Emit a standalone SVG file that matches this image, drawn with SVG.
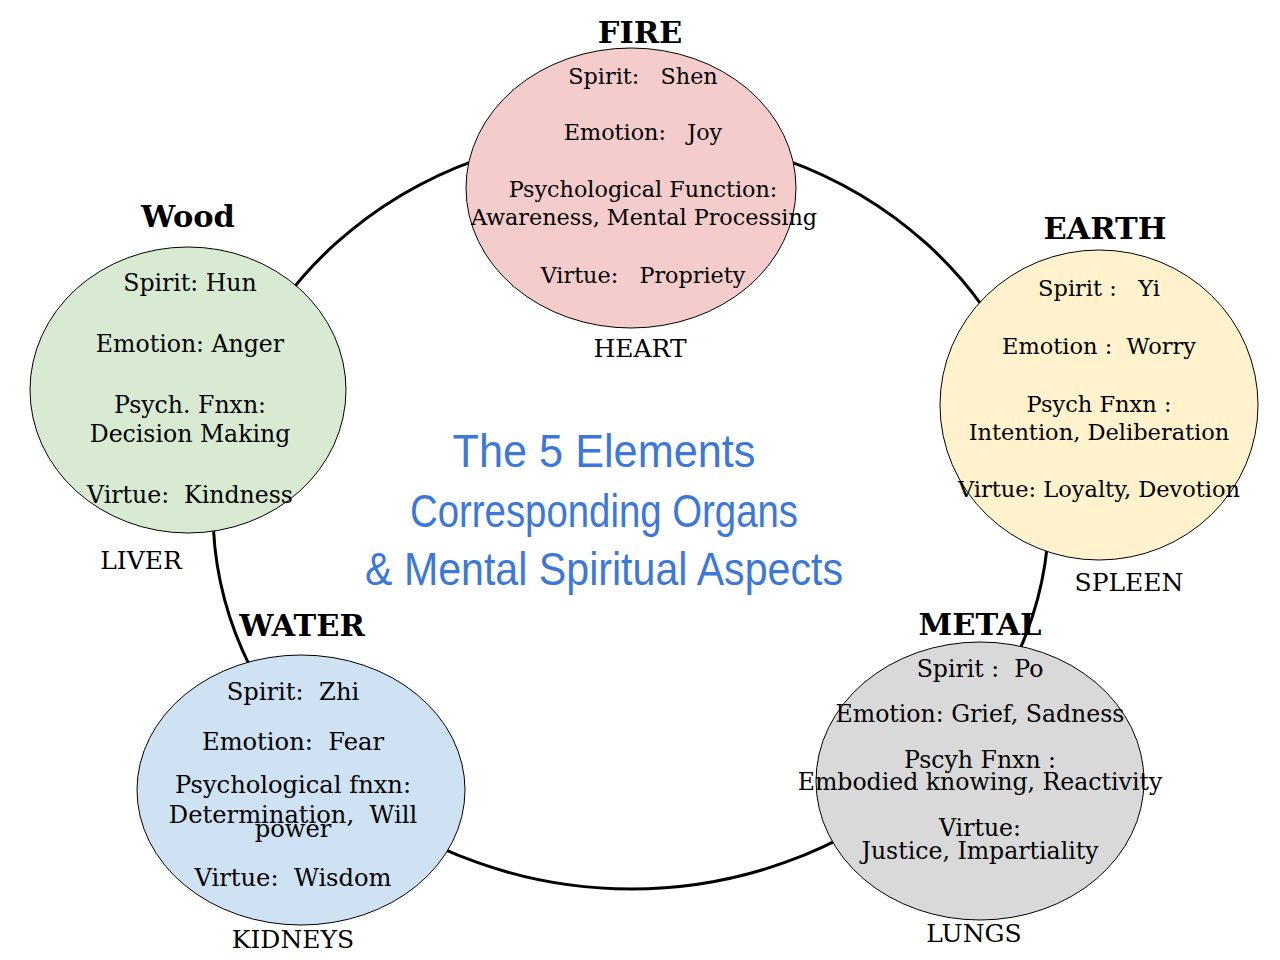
<svg xmlns="http://www.w3.org/2000/svg" width="1280" height="960" viewBox="0 0 1280 960">
<style>
.node{stroke:#000;stroke-width:1}
.t{font-family:"DejaVu Serif","Liberation Serif",serif;font-size:22px;fill:#000;text-anchor:middle;white-space:pre}
#fire .t{font-size:22.3px}
#wood .t{font-size:23.6px}
#earth .t{font-size:22.5px}
#water .t{font-size:24.2px}
#metal .t{font-size:23.6px}
.h{font-family:"DejaVu Serif","Liberation Serif",serif;font-size:30.5px;font-weight:bold;fill:#000;text-anchor:middle}
.o{font-family:"DejaVu Serif","Liberation Serif",serif;font-size:25px;fill:#000;text-anchor:middle}
.title{font-family:"Liberation Sans",sans-serif;font-size:46px;fill:#3c78d8;text-anchor:middle}
</style>
<rect width="1280" height="960" fill="#fff"/>
<g id="connectors">
<ellipse cx="631" cy="511" rx="418" ry="378" fill="none" stroke="#000" stroke-width="3"/>
</g>
<g id="fire">
<ellipse class="node" cx="631" cy="188" rx="165" ry="140" fill="#f4cccc"/>
<text class="h" x="640" y="43">FIRE</text>
<text class="t" x="643" y="84" xml:space="preserve">Spirit:   Shen</text>
<text class="t" x="643" y="140" xml:space="preserve">Emotion:   Joy</text>
<text class="t" x="643" y="197">Psychological Function:</text>
<text class="t" x="644" y="225">Awareness, Mental Processing</text>
<text class="t" x="643" y="283" xml:space="preserve">Virtue:   Propriety</text>
<text class="o" x="640" y="357">HEART</text>
</g>
<g id="wood">
<ellipse class="node" cx="188" cy="390" rx="158" ry="143" fill="#d9ead3"/>
<text class="h" x="188" y="227">Wood</text>
<text class="t" x="190" y="291">Spirit: Hun</text>
<text class="t" x="190" y="352">Emotion: Anger</text>
<text class="t" x="190" y="413">Psych. Fnxn:</text>
<text class="t" x="190" y="442">Decision Making</text>
<text class="t" x="190" y="503" xml:space="preserve">Virtue:  Kindness</text>
<text class="o" x="141" y="569">LIVER</text>
</g>
<g id="earth">
<ellipse class="node" cx="1099" cy="405" rx="159" ry="155" fill="#fff2cc"/>
<text class="h" x="1105" y="239">EARTH</text>
<text class="t" x="1099" y="296" xml:space="preserve">Spirit :   Yi</text>
<text class="t" x="1099" y="354" xml:space="preserve">Emotion :  Worry</text>
<text class="t" x="1099" y="412">Psych Fnxn :</text>
<text class="t" x="1099" y="440">Intention, Deliberation</text>
<text class="t" x="1099" y="497">Virtue: Loyalty, Devotion</text>
<text class="o" x="1129" y="591">SPLEEN</text>
</g>
<g id="water">
<ellipse class="node" cx="301" cy="790" rx="164" ry="135" fill="#cfe2f3"/>
<text class="h" x="302" y="636">WATER</text>
<text class="t" x="293" y="700" xml:space="preserve">Spirit:  Zhi</text>
<text class="t" x="293" y="750" xml:space="preserve">Emotion:  Fear</text>
<text class="t" x="293" y="793">Psychological fnxn:</text>
<text class="t" x="293" y="823" xml:space="preserve">Determination,  Will</text>
<text class="t" x="293" y="837">power</text>
<text class="t" x="293" y="886" xml:space="preserve">Virtue:  Wisdom</text>
<text class="o" x="293" y="948">KIDNEYS</text>
</g>
<g id="metal">
<ellipse class="node" cx="980" cy="781" rx="164" ry="139" fill="#d9d9d9"/>
<text class="h" x="980" y="635">METAL</text>
<text class="t" x="980" y="677" xml:space="preserve">Spirit :  Po</text>
<text class="t" x="980" y="722">Emotion: Grief, Sadness</text>
<text class="t" x="980" y="768">Pscyh Fnxn :</text>
<text class="t" x="980" y="790">Embodied knowing, Reactivity</text>
<text class="t" x="980" y="836">Virtue:</text>
<text class="t" x="980" y="859">Justice, Impartiality</text>
<text class="o" x="974" y="942">LUNGS</text>
</g>
<g id="title">
<text class="title" x="604" y="467" textLength="303" lengthAdjust="spacingAndGlyphs">The 5 Elements</text>
<text class="title" x="604" y="527" textLength="388" lengthAdjust="spacingAndGlyphs">Corresponding Organs</text>
<text class="title" x="604" y="585" textLength="478" lengthAdjust="spacingAndGlyphs">&amp; Mental Spiritual Aspects</text>
</g>
</svg>
